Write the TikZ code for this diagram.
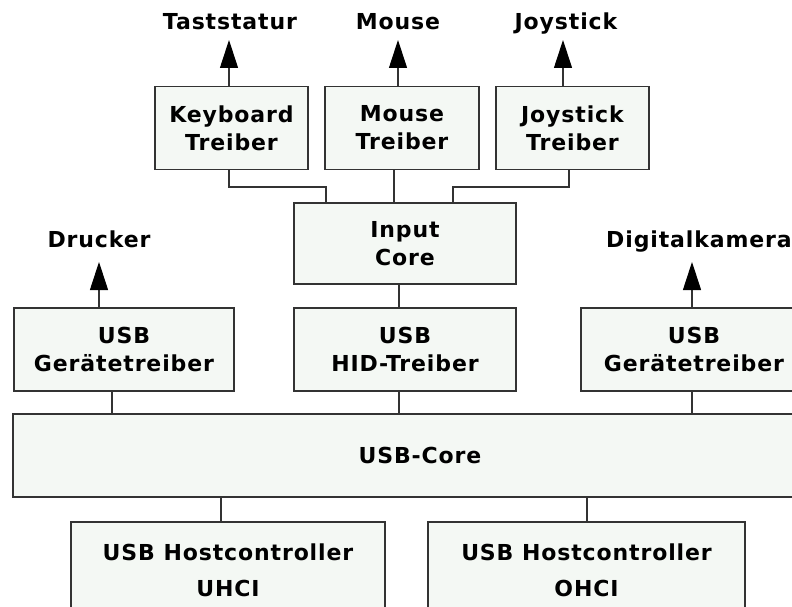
\documentclass[tikz,border=0pt]{standalone}
\usepackage{fontspec}
\setmainfont[LetterSpace=4]{DejaVu Sans}
\usetikzlibrary{arrows.meta}
\definecolor{boxfill}{HTML}{F4F8F4}
\definecolor{boxline}{HTML}{333333}
\tikzset{
  blk/.style={draw=boxline, fill=boxfill, line width=1.4pt, align=center,
    font=\fontsize{22}{28}\selectfont\bfseries, inner sep=0pt},
  lbl/.style={font=\fontsize{22}{26}\selectfont\bfseries, inner sep=0pt, anchor=base},
  conn/.style={draw=boxline, line width=1.1pt},
  up/.style={conn, -{Triangle[width=18pt,length=28pt,color=black]}},
}
\begin{document}
\begin{tikzpicture}[x=1pt,y=-1pt]
\useasboundingbox (0,0) rectangle (792,607);
% boxes
\node[blk, minimum width=153pt, minimum height=83pt] (kb) at (231.5,128) {Keyboard\\Treiber};
\node[blk, minimum width=154pt, minimum height=83pt] (ms) at (402,128) {Mouse\\Treiber};
\node[blk, minimum width=153pt, minimum height=83pt] (js) at (572.5,128) {Joystick\\Treiber};
\node[blk, minimum width=222pt, minimum height=81pt] (in) at (405,243.5) {Input\\Core};
\node[blk, minimum width=220pt, minimum height=83pt] (gl) at (124,349.5) {USB\\Gerätetreiber};
\node[blk, minimum width=222pt, minimum height=83pt] (hid) at (405,349.5) {USB\\HID-Treiber};
\node[blk, minimum width=226pt, minimum height=83pt] (gr) at (694,349.5) {USB\\Gerätetreiber};
\node[blk, minimum width=814pt, minimum height=83pt] (core) at (420,455.5) {USB-Core};
\node[blk, minimum width=314pt, minimum height=96pt, font=\fontsize{22}{36}\selectfont\bfseries] (uhci) at (228,570) {USB Hostcontroller\\UHCI};
\node[blk, minimum width=317pt, minimum height=96pt, font=\fontsize{22}{36}\selectfont\bfseries] (ohci) at (586.5,570) {USB Hostcontroller\\OHCI};
% labels
\node[lbl] (lt) at (230,30) {Taststatur};
\node[lbl] (lm) at (398,30) {Mouse};
\node[lbl] (lj) at (566,30) {Joystick};
\node[lbl] (ld) at (99,247) {Drucker};
\node[lbl, anchor=base west] (lc) at (606,247) {Digitalkamera};
% arrow tips
\coordinate (tk) at (229,40);
\coordinate (tm) at (398,40);
\coordinate (tj) at (563,40);
\coordinate (td) at (99,262);
\coordinate (tc) at (692,262);
\draw[up] (kb.north -| tk) -- (tk);
\draw[up] (ms.north -| tm) -- (tm);
\draw[up] (js.north -| tj) -- (tj);
\draw[up] (gl.north -| td) -- (td);
\draw[up] (gr.north -| tc) -- (tc);
% connectors to input core
\coordinate (j1) at (326,187);
\coordinate (j2) at (453,187);
\coordinate (j3) at (229,187);
\coordinate (j4) at (569,187);
\coordinate (j5) at (394,187);
\draw[conn] (kb.south -| j3) |- (j1) -- (in.north -| j1);
\draw[conn] (ms.south -| j5) -- (in.north -| j5);
\draw[conn] (js.south -| j4) |- (j2) -- (in.north -| j2);
\coordinate (k1) at (399,0);
\draw[conn] (in.south -| k1) -- (hid.north -| k1);
% to usb core
\coordinate (m1) at (112,0);
\coordinate (m2) at (399,0);
\coordinate (m3) at (692,0);
\draw[conn] (gl.south -| m1) -- (core.north -| m1);
\draw[conn] (hid.south -| m2) -- (core.north -| m2);
\draw[conn] (gr.south -| m3) -- (core.north -| m3);
\coordinate (n1) at (221,0);
\coordinate (n2) at (587,0);
\draw[conn] (core.south -| n1) -- (uhci.north -| n1);
\draw[conn] (core.south -| n2) -- (ohci.north -| n2);
\end{tikzpicture}
\end{document}
